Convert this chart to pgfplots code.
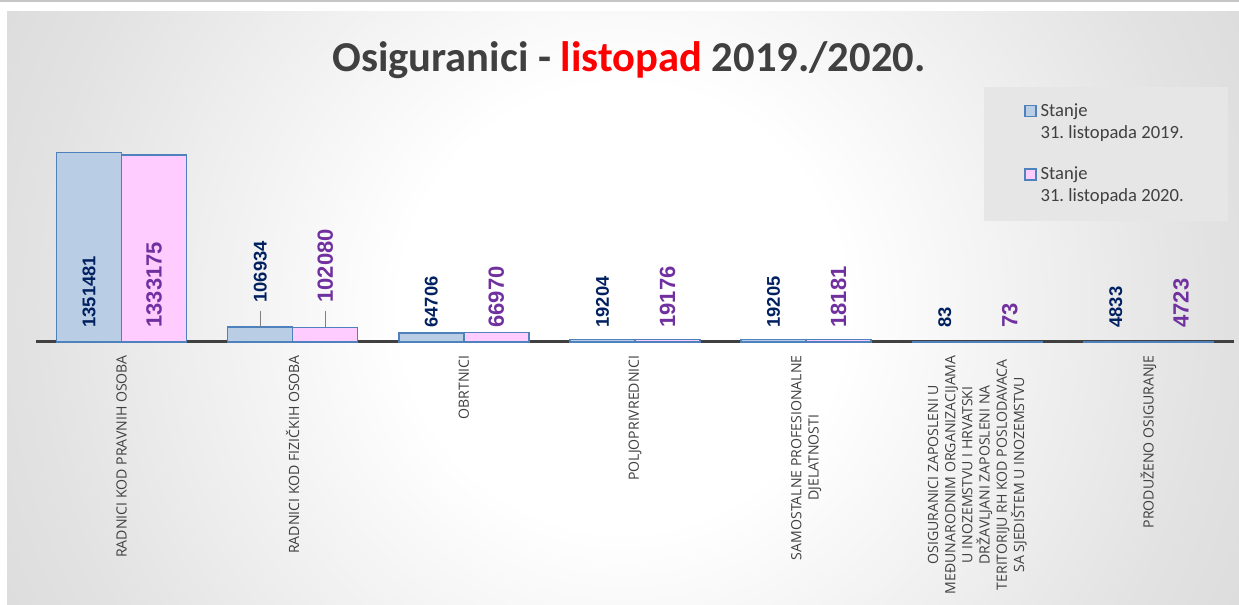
\documentclass[border=0pt]{standalone}
\usepackage{fontspec}
\setmainfont{Carlito}
\newfontfamily\titlefont{Carlito}
\newfontfamily\catfont{Open Sans}
\newfontfamily\valfont{Liberation Sans}
\usepackage{pgfplots}
\pgfplotsset{compat=1.18}
\definecolor{b19}{HTML}{B9CDE5}
\definecolor{p20}{HTML}{FFCCFF}
\definecolor{bedge}{HTML}{4F81BD}
\definecolor{lab19}{HTML}{002060}
\definecolor{lab20}{HTML}{7030A0}
\definecolor{txtgray}{HTML}{404040}
\definecolor{leggray}{HTML}{E6E6E6}
\definecolor{bgA}{HTML}{E2E2E2}
\definecolor{bgB}{HTML}{C8C8C8}
\definecolor{bgC}{HTML}{BDBDBD}
\pgfdeclareradialshading{bgshade}{\pgfpoint{0bp}{0bp}}{color(0bp)=(white); color(9bp)=(white); color(24bp)=(bgA); color(43bp)=(bgB); color(72bp)=(bgC)}
\frenchspacing

\begin{document}
\begin{tikzpicture}
% background (1px = 0.5pt)
\fill[white] (0,0) rectangle (619.5pt,302.5pt);
\fill[gray!45] (0,301.3pt) rectangle (619.5pt,302.5pt);
\begin{scope}
  \clip (3.5pt,0) rectangle (619.5pt,296.5pt);
  \shade[shading=bgshade] (3.5pt,-159.5pt) rectangle (619.5pt,456.5pt);
\end{scope}

\begin{axis}[
  scale only axis,
  width=599pt, height=126pt,
  at={(18pt,131.5pt)}, anchor=south west,
  xmin=-0.5, xmax=6.5, ymin=0, ymax=1795400,
  axis x line*=bottom, axis y line=none,
  x axis line style={draw=txtgray, line width=1.5pt, -},
  xtick={0,1,2,3,4,5,6}, ytick=\empty,
  major tick length=0pt,
  xticklabels={
    {RADNICI KOD PRAVNIH OSOBA},
    {RADNICI KOD FIZIČKIH OSOBA},
    {OBRTNICI},
    {POLJOPRIVREDNICI},
    {SAMOSTALNE PROFESIONALNE\\DJELATNOSTI},
    {OSIGURANICI ZAPOSLENI U\\MEĐUNARODNIM ORGANIZACIJAMA\\U INOZEMSTVU I HRVATSKI\\DRŽAVLJANI ZAPOSLENI NA\\TERITORIJU RH KOD POSLODAVACA\\SA SJEDIŠTEM U INOZEMSTVU},
    {PRODUŽENO OSIGURANJE}},
  xticklabel style={rotate=90, anchor=east, inner sep=0pt, align=center,
    font=\catfont\fontsize{7.05}{8.6}\selectfont, text=txtgray},
  xticklabel shift=6.5pt,
  title={Osiguranici - {\color{red}listopad} 2019./2020.},
  title style={at={(axis description cs:0.495,1.027)}, anchor=base,
    font=\titlefont\bfseries\fontsize{21.3}{25}\selectfont, text=txtgray},
  legend style={at={(axis description cs:0.7913,1.0119)}, anchor=north west,
    draw=none, fill=leggray, inner xsep=20pt, inner ysep=6pt, row sep=9pt,
    font=\fontsize{9.3}{11}\selectfont, text=txtgray, cells={align=left},
    /tikz/every even column/.append style={column sep=1.5pt}},
  legend cell align=left,
  legend image code/.code={\draw[#1,/tikz/.cd,line width=0.6pt] (0pt,3pt) rectangle (5.5pt,8.5pt);},
  clip=false,
]
\addplot[ybar, bar width=32.5pt, bar shift=-16.25pt, fill=b19, draw=bedge, line width=0.75pt]
  coordinates {(0,1351481) (1,106934) (2,64706) (3,19204) (4,19205) (5,83) (6,4833)};
\addlegendentry{Stanje\\31. listopada 2019.}
\addplot[ybar, bar width=32.5pt, bar shift=16.25pt, fill=p20, draw=bedge, line width=0.75pt]
  coordinates {(0,1333175) (1,102080) (2,66970) (3,19176) (4,18181) (5,73) (6,4723)};
\addlegendentry{Stanje\\31. listopada 2020.}
% leader lines
\addplot[forget plot, gray, line width=0.5pt] coordinates {(0.81,220860) (0.81,106934)};
\addplot[forget plot, gray, line width=0.5pt] coordinates {(1.19,220860) (1.19,102080)};
% value labels
\addplot[forget plot, draw=none, mark=none, point meta=explicit symbolic, nodes near coords,
  nodes near coords style={rotate=90, anchor=west, inner sep=0pt,
    font=\valfont\bfseries\fontsize{9.2}{11}\selectfont, text=lab19}]
  coordinates {(-0.19,99745)[1351481] (0.81,277860)[106934] (1.81,99745)[64706]
    (2.81,99745)[19204] (3.81,99745)[19205] (4.81,99745)[83] (5.81,99745)[4833]};
\addplot[forget plot, draw=none, mark=none, point meta=explicit symbolic, nodes near coords,
  nodes near coords style={rotate=90, anchor=west, inner sep=0pt,
    font=\valfont\bfseries\fontsize{11}{13}\selectfont, text=lab20}]
  coordinates {(0.19,99745)[1333175] (1.19,277860)[102080] (2.19,99745)[66970]
    (3.19,99745)[19176] (4.19,99745)[18181] (5.19,99745)[73] (6.19,99745)[4723]};
\end{axis}
\pgfresetboundingbox
\path (0,0) rectangle (619.5pt,302.5pt);
\end{tikzpicture}
\end{document}
